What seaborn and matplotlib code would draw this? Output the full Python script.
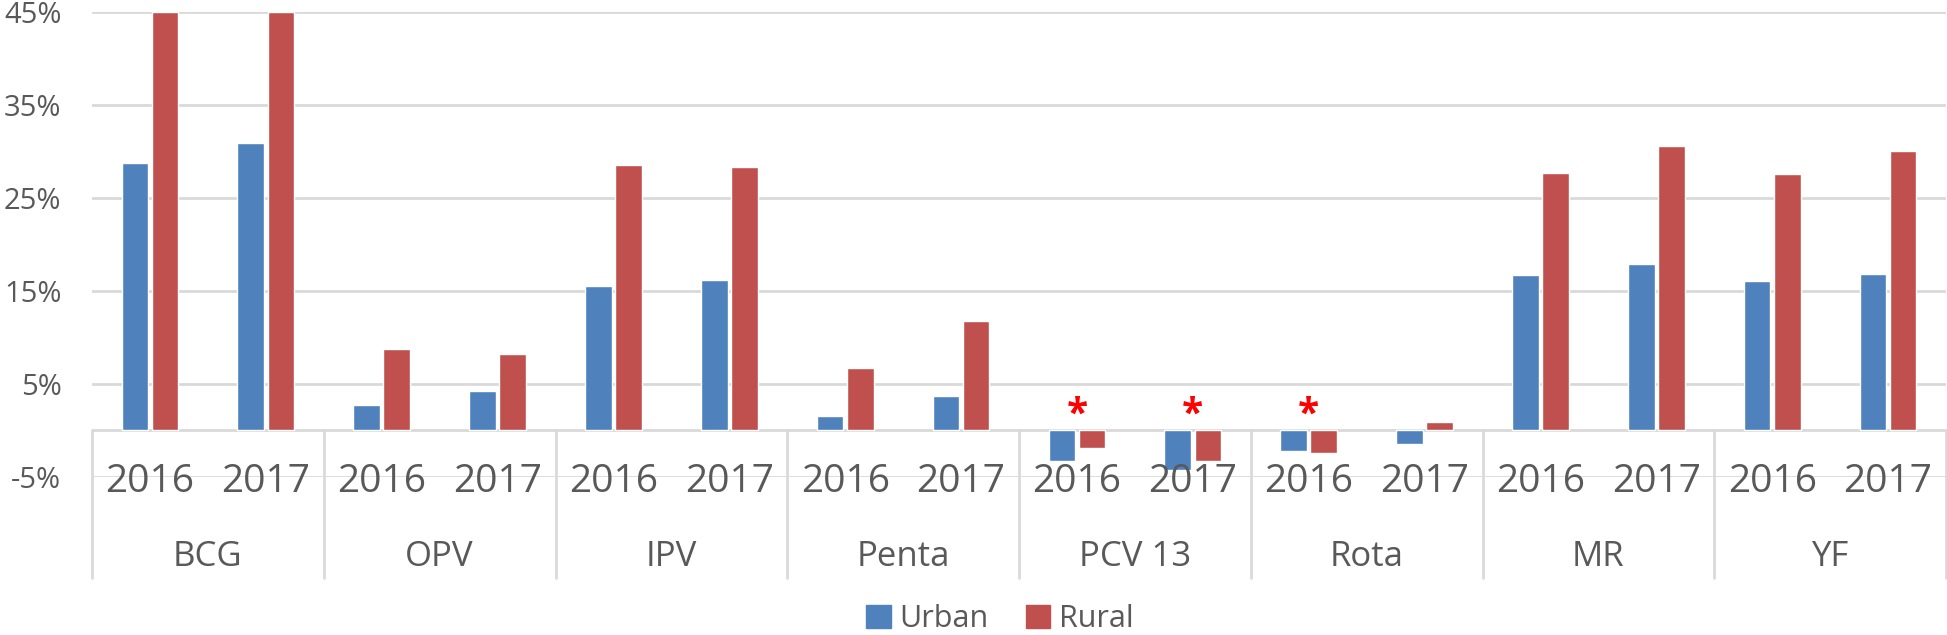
import pandas as pd
import matplotlib.pyplot as plt
import numpy as np
import seaborn as sns
from matplotlib.patches import Patch

# vaccine groups, years and the urban / rural differences (%)
groups = ["BCG", "OPV", "IPV", "Penta", "PCV 13", "Rota", "MR", "YF"]
years = ["2016", "2017"]
urban = [28.8, 30.9, 2.7, 4.2, 15.5, 16.2, 1.5, 3.7,
         -3.3, -4.3, -2.2, -1.5, 16.7, 17.9, 16.1, 16.8]
rural = [45.0, 45.0, 8.7, 8.25, 28.5, 28.35, 6.7, 11.8,
         -1.9, -3.3, -2.5, 0.9, 27.7, 30.6, 27.6, 30.0]
# slots marked with a red asterisk
significant = [False, False, False, False, False, False, False, False,
               True, True, True, False, False, False, False, False]
yticks = [-5, 5, 15, 25, 35, 45]

blue = "#4F81BD"
red = "#C0504D"
grey_txt = "#595959"
grid_col = "#D9D9D9"

slots = [g + " " + y for g in groups for y in years]
df = pd.DataFrame({
    "slot": slots * 2,
    "value": urban + rural,
    "area": ["Urban"] * len(slots) + ["Rural"] * len(slots),
})

sns.set_style("white")
plt.rcParams['font.family'] = ['Open Sans', 'DejaVu Sans']

fig = plt.figure(figsize=(19.47, 6.35), dpi=100)
ax = fig.add_axes([92 / 1947, 1 - 476.7 / 635, (1946 - 92) / 1947, (476.7 - 12) / 635])

sns.barplot(data=df, x="slot", y="value", hue="area", order=slots,
            hue_order=["Urban", "Rural"], palette=[blue, red], saturation=1,
            width=0.52, gap=0.12, legend=False, ax=ax, zorder=3)

ax.set_xlim(-0.5, len(slots) - 0.5)
ax.set_ylim(-5, 45)
ax.set_yticks(yticks)
ax.set_yticklabels([f"{v}%" for v in yticks], color=grey_txt, fontsize=21)
ax.tick_params(axis="y", length=0, pad=22)
ax.set_xticks([])
ax.set_xlabel("")
ax.set_ylabel("")
for s in ax.spines.values():
    s.set_visible(False)
ax.yaxis.grid(True, color=grid_col, linewidth=2)
ax.set_axisbelow(True)

# category axis at zero
ax.axhline(0, color=grid_col, linewidth=2, zorder=2)
for k in range(len(groups) + 1):
    ax.plot([-0.5 + 2 * k] * 2, [0, -15.9], color=grid_col, linewidth=2,
            clip_on=False, zorder=2)

for i, s in enumerate(slots):
    ax.text(i, -5.6, s.split(" ")[-1], ha="center", va="center",
            fontsize=28, color=grey_txt)
    if significant[i]:
        ax.text(i, 1.6, "*", ha="center", va="center", fontsize=28,
                fontweight="bold", color="red")
for k, g in enumerate(groups):
    ax.text(2 * k + 0.5, -13.6, g, ha="center", va="center",
            fontsize=25, color=grey_txt)

handles = [Patch(color=blue, label="Urban"), Patch(color=red, label="Rural")]
fig.legend(handles=handles, loc="center", bbox_to_anchor=(1000 / 1947, 1 - 619 / 635),
           ncol=2, frameon=False, fontsize=22, labelcolor=grey_txt,
           handlelength=0.8, handleheight=0.8, handletextpad=0.3, columnspacing=1.2,
           borderpad=0.1)

fig.savefig("out.png", dpi=100)
